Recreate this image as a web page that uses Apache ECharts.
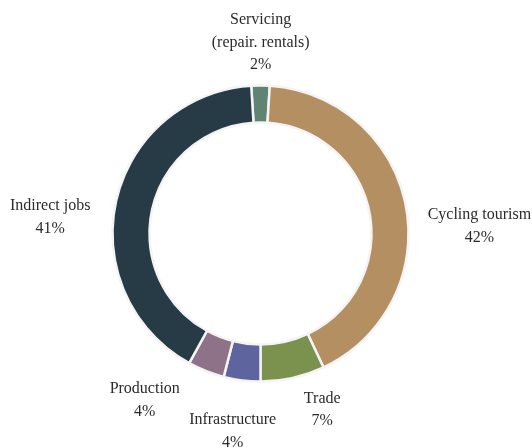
<!DOCTYPE html>
<html>
<head>
<meta charset="utf-8">
<script src="https://cdn.jsdelivr.net/npm/echarts@6/dist/echarts.min.js"></script>
<style>
  html, body { margin: 0; padding: 0; background: #fff; }
  #chart { width: 532px; height: 448px; }
</style>
</head>
<body>
<div id="chart"></div>
<script>
// slices, clockwise from the top
const categories = ['Servicing\n(repair. rentals)', 'Cycling tourism', 'Trade', 'Infrastructure', 'Production', 'Indirect jobs']
const shares = [2, 42, 7, 4, 4, 41]
const colors = ['#5f8474', '#b48f62', '#7a924e', '#5e659e', '#8e7388', '#263b45']
// small shifts so the labels sit where the original put them
const labelNudge = [[54, -29], [3, 23], [3, 18], [41, 37], [-16, 16], [-7, 19]]

var myChart = echarts.init(document.getElementById('chart'), null, { renderer: 'canvas' })

var option = {
  backgroundColor: '#fff',
  animation: false,
  textStyle: {
    fontFamily: '"Liberation Serif", "DejaVu Serif", serif'
  },
  series: [
    {
      type: 'pie',
      center: [260.5, 233.5],
      radius: [111, 148],
      startAngle: 93.6,
      clockwise: true,
      avoidLabelOverlap: false,
      data: categories.map((name, i) => ({
        name: name,
        value: shares[i],
        itemStyle: { color: colors[i] }
      })),
      itemStyle: {
        borderColor: '#f4f4f4',
        borderWidth: 2.5
      },
      label: {
        show: true,
        position: 'outside',
        formatter: p => p.name + '\n' + p.value + '%',
        color: '#2b2b2b',
        fontSize: 16,
        lineHeight: 22.5
      },
      labelLine: { show: false, length: 14, length2: 0 },
      // center every multi-line label on the spot the library picked
      labelLayout: function (params) {
        var r = params.labelRect
        var n = labelNudge[params.dataIndex]
        return {
          x: r.x + r.width / 2 + n[0],
          y: r.y + r.height / 2 + n[1],
          align: 'center',
          verticalAlign: 'middle'
        }
      }
    }
  ]
}

myChart.setOption(option, true)
</script>
</body>
</html>
